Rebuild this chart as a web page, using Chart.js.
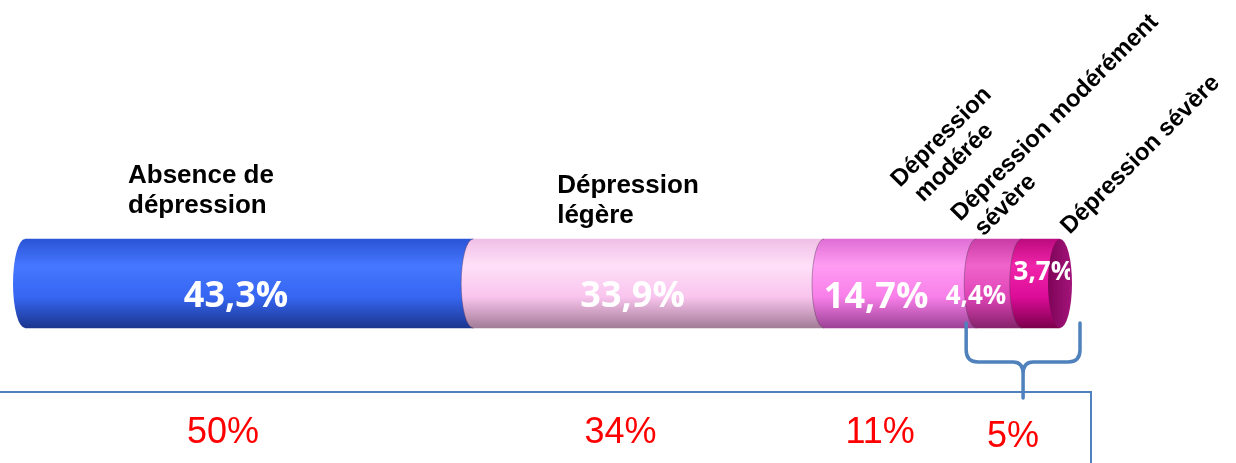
<!DOCTYPE html>
<html>
<head>
<meta charset="utf-8">
<script src="https://cdn.jsdelivr.net/npm/chart.js@4"></script>
<style>
  body { margin: 0; background: #fff; }
  canvas { display: block; }
</style>
</head>
<body>
<canvas id="myChart" width="1236" height="463"></canvas>
<script>
// Stacked cylinder of depression levels, drawn as a horizontal stacked bar

const categories = [['Absence de', 'dépression'], ['Dépression', 'légère'], ['Dépression', 'modérée'],
                    ['Dépression modérément', 'sévère'], ['Dépression sévère']];
const values = [43.3, 33.9, 14.7, 4.4, 3.7];          // % of respondents
const valueText = ['43,3%', '33,9%', '14,7%', '4,4%', '3,7%'];
const groupText = ['50%', '34%', '11%', '5%'];        // reference figures under the bar
const groupSegments = [[0], [1], [2], [3, 4]];

// look of the cylinder: top, highlight, middle, bottom
const shades = [
    ['#2b54d6', '#4577ff', '#3666f2', '#1b358e'],
    ['#f0bfe7', '#ffe0f8', '#f9c4ee', '#a27c96'],
    ['#e06ed5', '#ff9cf3', '#f87fe9', '#9c4296'],
    ['#c93ca6', '#f064cb', '#de44b6', '#86226c'],
    ['#bd0a7e', '#f024aa', '#dc0c98', '#7c004c']
];
const THICK = 89;   // bar thickness in px
const RX = 12;      // half width of the end ellipses

// where the names and values sit, relative to each segment
const nameOffsets = [[103, 183], [84, 193], [76, 188], [-16, 222], [48, 235]];
const valueOffsets = [[-13, 13, 36], [-16, 13, 36], [-24, 14, 36], [-23, 13, 26], [3, -11, 26]];
const groupOffsets = [[-26, 443], [-28, 443], [-20, 443], [-5, 447]];

function bodyGradient(chart, i) {
    const area = chart.chartArea;
    if (!area || !isFinite(area.top) || !isFinite(area.bottom)) return shades[i][2];
    const yc = (area.top + area.bottom) / 2;
    const g = chart.ctx.createLinearGradient(0, yc - THICK / 2, 0, yc + THICK / 2);
    g.addColorStop(0, shades[i][0]);
    g.addColorStop(0.3, shades[i][1]);
    g.addColorStop(0.65, shades[i][2]);
    g.addColorStop(1, shades[i][3]);
    return g;
}

const cylinder = {
    id: 'cylinder',
    afterDatasetsDraw(chart) {
        const ctx = chart.ctx;
        const bars = chart.data.datasets.map((d, i) => chart.getDatasetMeta(i).data[0]);

        // left bulge of every segment, covering the one before it
        bars.forEach((bar, i) => {
            const p = bar.getProps(['x', 'y', 'base', 'height'], true);
            const h = p.height / 2;
            ctx.save();
            ctx.beginPath();
            ctx.ellipse(p.base, p.y, RX, h, 0, Math.PI / 2, Math.PI * 1.5);
            ctx.lineTo(p.base + 2, p.y - h);
            ctx.lineTo(p.base + 2, p.y + h);
            ctx.closePath();
            ctx.fillStyle = bodyGradient(chart, i);
            ctx.fill();
            if (i > 0) {
                ctx.beginPath();
                ctx.ellipse(p.base, p.y, RX, h, 0, Math.PI / 2, Math.PI * 1.5);
                ctx.strokeStyle = 'rgba(90,60,90,0.45)';
                ctx.lineWidth = 1;
                ctx.stroke();
            }
            ctx.restore();
        });

        // end face of the last segment
        const last = bars[bars.length - 1].getProps(['x', 'y', 'height'], true);
        ctx.save();
        const g = ctx.createLinearGradient(last.x - RX, 0, last.x + RX, 0);
        g.addColorStop(0, '#7e0458');
        g.addColorStop(1, '#a3147a');
        ctx.beginPath();
        ctx.ellipse(last.x, last.y, RX, last.height / 2, 0, 0, Math.PI * 2);
        ctx.fillStyle = g;
        ctx.fill();
        ctx.restore();

        // value labels
        ctx.save();
        ctx.beginPath();
        ctx.rect(0, 0, last.x + RX - 2, chart.height);
        ctx.clip();
        ctx.fillStyle = '#ffffff';
        ctx.textAlign = 'center';
        ctx.textBaseline = 'middle';
        bars.forEach((bar, i) => {
            const p = bar.getProps(['x', 'y', 'base'], true);
            const o = valueOffsets[i];
            ctx.font = 'bold ' + o[2] + 'px "Open Sans", sans-serif';
            ctx.fillText(valueText[i], (p.x + p.base) / 2 + o[0], p.y + o[1]);
        });
        ctx.restore();
    },
    afterDraw(chart) {
        const ctx = chart.ctx;
        const bars = chart.data.datasets.map((d, i) => chart.getDatasetMeta(i).data[0]);

        // category names
        ctx.save();
        ctx.fillStyle = '#000';
        ctx.textAlign = 'left';
        ctx.textBaseline = 'alphabetic';
        bars.forEach((bar, i) => {
            const base = bar.getProps(['base'], true).base;
            const o = nameOffsets[i];
            ctx.save();
            ctx.translate(base + o[0], o[1]);
            if (i < 2) {
                ctx.font = 'bold 26px "Liberation Sans", Arial, sans-serif';
                categories[i].forEach((line, k) => ctx.fillText(line, 0, k * 30));
            } else {
                ctx.rotate(-Math.PI / 4);
                ctx.font = 'bold 24px "Liberation Sans", Arial, sans-serif';
                categories[i].forEach((line, k) => ctx.fillText(line, k * 6, k * 27));
            }
            ctx.restore();
        });
        ctx.restore();

        // box under the bar
        ctx.save();
        ctx.strokeStyle = '#4f81bd';
        ctx.lineWidth = 2;
        ctx.beginPath();
        ctx.moveTo(0, 392);
        ctx.lineTo(chart.chartArea.right + 31, 392);
        ctx.lineTo(chart.chartArea.right + 31, chart.height);
        ctx.stroke();

        // brace over the two last segments
        const a = bars[3].getProps(['base'], true).base - 10;
        const b = bars[4].getProps(['x'], true).x + 20;
        const s = (a + b) / 2;
        ctx.lineWidth = 3.5;
        ctx.lineCap = 'round';
        ctx.lineJoin = 'round';
        ctx.beginPath();
        ctx.moveTo(a, 323);
        ctx.lineTo(a, 350);
        ctx.quadraticCurveTo(a, 362, a + 12, 362);
        ctx.lineTo(s - 10, 362);
        ctx.quadraticCurveTo(s, 362, s, 374);
        ctx.lineTo(s, 398);
        ctx.moveTo(s, 374);
        ctx.quadraticCurveTo(s, 362, s + 10, 362);
        ctx.lineTo(b - 12, 362);
        ctx.quadraticCurveTo(b, 362, b, 350);
        ctx.lineTo(b, 323);
        ctx.stroke();
        ctx.restore();

        // reference figures
        ctx.save();
        ctx.fillStyle = '#ff0000';
        ctx.font = '36px "Liberation Sans", Arial, sans-serif';
        ctx.textAlign = 'center';
        ctx.textBaseline = 'alphabetic';
        groupSegments.forEach((seg, k) => {
            const from = bars[seg[0]].getProps(['base'], true).base;
            const to = bars[seg[seg.length - 1]].getProps(['x'], true).x;
            ctx.fillText(groupText[k], (from + to) / 2 + groupOffsets[k][0], groupOffsets[k][1]);
        });
        ctx.restore();
    }
};

const ctx = document.getElementById('myChart');
const myChart = new Chart(ctx, {
    type: 'bar',
    data: {
        labels: [''],
        datasets: values.map((v, i) => ({
            label: categories[i].join(' '),
            data: [v],
            backgroundColor: c => bodyGradient(c.chart, i),
            borderWidth: 0,
            barThickness: THICK
        }))
    },
    options: {
        indexAxis: 'y',
        responsive: false,
        animation: false,
        layout: {
            padding: { left: 25, right: 176, top: 200, bottom: 96 }
        },
        scales: {
            x: { stacked: true, min: 0, max: 100, display: false },
            y: { stacked: true, display: false }
        },
        plugins: {
            legend: { display: false },
            tooltip: { enabled: false }
        }
    },
    plugins: [cylinder]
});
</script>
</body>
</html>
